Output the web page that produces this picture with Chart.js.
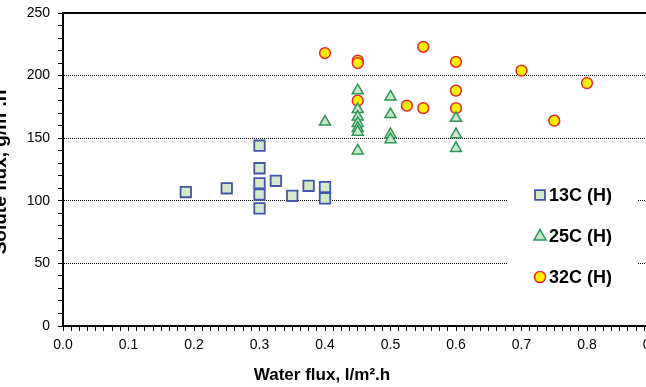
<!DOCTYPE html>
<html>
<head>
<meta charset="utf-8">
<script src="https://cdn.jsdelivr.net/npm/chart.js@4/dist/chart.umd.min.js"></script>
<style>
  html, body { margin: 0; padding: 0; background: #fff; overflow: hidden; }
  #wrap { position: relative; width: 646px; height: 387px; overflow: hidden; }
  #soluteChart { position: absolute; left: -20px; top: -20px; }
</style>
</head>
<body>
<div id="wrap"><canvas id="soluteChart" width="700" height="430"></canvas></div>
<script>
const seriesLabels = ["13C (H)", "25C (H)", "32C (H)"];

// water flux (x) and solute flux (y) for each temperature
const water13 = [0.1875, 0.25, 0.3, 0.3, 0.3, 0.3, 0.3, 0.325, 0.35, 0.375, 0.4, 0.4];
const solute13 = [107, 110, 144, 126, 114, 105, 94, 116, 104, 112, 111, 102];

const water25 = [0.4, 0.45, 0.45, 0.45, 0.45, 0.45, 0.45, 0.45, 0.5, 0.5, 0.5, 0.5, 0.6, 0.6, 0.6];
const solute25 = [163, 188, 173, 167, 162, 158, 155, 140, 183, 169, 153, 149, 166, 153, 142];

const water32 = [0.4, 0.45, 0.45, 0.45, 0.525, 0.55, 0.55, 0.6, 0.6, 0.6, 0.7, 0.75, 0.8];
const solute32 = [218, 212, 210, 180, 176, 223, 174, 211, 188, 174, 204, 164, 194];

const xTitle = "Water flux, l/m\u00b2.h";
const yTitle = "Solute flux, g/m\u00b2.h";

function toPoints(xs, ys) {
    return xs.map((x, i) => ({ x: x, y: ys[i] }));
}

const fontFamily = '"Liberation Sans", Arial, sans-serif';

// top/right frame, axis titles and the boxed legend inside the plot
const extras = {
    id: "extras",
    afterDraw(chart) {
        const { ctx, chartArea: a } = chart;
        ctx.save();
        ctx.strokeStyle = "#000";
        ctx.lineWidth = 2;
        ctx.beginPath();
        ctx.moveTo(a.left, a.top);
        ctx.lineTo(a.right, a.top);
        ctx.lineTo(a.right, a.bottom);
        ctx.stroke();

        ctx.fillStyle = "#000";
        ctx.font = "bold 17px " + fontFamily;
        ctx.textAlign = "center";
        ctx.textBaseline = "alphabetic";
        ctx.fillText(xTitle, a.left + 259, a.bottom + 54);

        ctx.save();
        ctx.font = "bold 19px " + fontFamily;
        ctx.translate(a.left - 57, (a.top + a.bottom) / 2 + 2.5);
        ctx.rotate(-Math.PI / 2);
        ctx.fillText(yTitle, 0, 0);
        ctx.restore();

        // legend
        const bx = a.left + 444;
        const by = a.top + 157;
        ctx.fillStyle = "#fff";
        ctx.fillRect(bx, by, 131, 130);
        const rowY = [25, 66.5, 107];
        const markerRadius = [7, 7, 5.6];
        chart.data.datasets.forEach((ds, i) => {
            const cy = by + rowY[i];
            ctx.fillStyle = ds.backgroundColor;
            ctx.strokeStyle = ds.borderColor;
            ctx.lineWidth = ds.borderWidth;
            Chart.helpers.drawPoint(ctx, {
                pointStyle: ds.pointStyle,
                radius: markerRadius[i],
                borderWidth: ds.borderWidth,
                rotation: 0
            }, bx + 33, cy);
            ctx.fillStyle = "#000";
            ctx.font = "bold 18px " + fontFamily;
            ctx.textAlign = "left";
            ctx.textBaseline = "middle";
            ctx.fillText(ds.label, bx + 42, cy + 1);
        });
        ctx.restore();
    }
};

const ctx = document.getElementById("soluteChart").getContext("2d");
const soluteChart = new Chart(ctx, {
    type: "scatter",
    data: {
        datasets: [
            {
                label: seriesLabels[0],
                data: toPoints(water13, solute13),
                pointStyle: "rect",
                pointRadius: 7.4,
                backgroundColor: "#d3e9c9",
                borderColor: "#4257a8",
                borderWidth: 1.8,
            },
            {
                label: seriesLabels[1],
                data: toPoints(water25, solute25),
                pointStyle: "triangle",
                pointRadius: 6.4,
                backgroundColor: "#cbe7cb",
                borderColor: "#2f9656",
                borderWidth: 1.5,
            },
            {
                label: seriesLabels[2],
                data: toPoints(water32, solute32),
                pointStyle: "circle",
                pointRadius: 5.4,
                backgroundColor: "#fff000",
                borderColor: "#e8252a",
                borderWidth: 1.5,
            },
        ],
    },
    options: {
        responsive: false,
        animation: false,
        layout: {
            padding: { left: 0, top: 33, right: 27.5, bottom: 0 },
        },
        plugins: {
            legend: { display: false },
            tooltip: { enabled: false },
        },
        scales: {
            x: {
                type: "linear",
                min: 0,
                max: 0.9,
                afterFit: (scale) => { scale.height = 84; },
                ticks: {
                    stepSize: 0.0125,
                    autoSkip: false,
                    maxRotation: 0,
                    padding: 6,
                    color: "#000",
                    font: { family: fontFamily, size: 14 },
                    callback: (v) => {
                        const t = v * 10;
                        return Math.abs(t - Math.round(t)) < 1e-6 ? v.toFixed(1) : "";
                    },
                },
                grid: {
                    drawOnChartArea: false,
                    tickLength: 5,
                    tickColor: "#000",
                    tickWidth: 1,
                },
                border: { color: "#000", width: 2 },
            },
            y: {
                min: 0,
                max: 250,
                afterFit: (scale) => { scale.width = 83; },
                ticks: {
                    stepSize: 10,
                    autoSkip: false,
                    padding: 8,
                    color: "#000",
                    font: { family: fontFamily, size: 14 },
                    callback: (v) => (v % 50 === 0 ? v : ""),
                },
                grid: {
                    color: (c) => {
                        const v = c.tick ? c.tick.value : 0;
                        return v % 50 === 0 && v > 0 && v < 250 ? "#000" : "rgba(0,0,0,0)";
                    },
                    lineWidth: 1,
                    tickLength: 5,
                    tickColor: "#000",
                    tickWidth: 1,
                    tickBorderDash: [],
                },
                border: { color: "#000", width: 2, dash: [1, 1] },
            },
        },
    },
    plugins: [extras],
});
</script>
</body>
</html>
